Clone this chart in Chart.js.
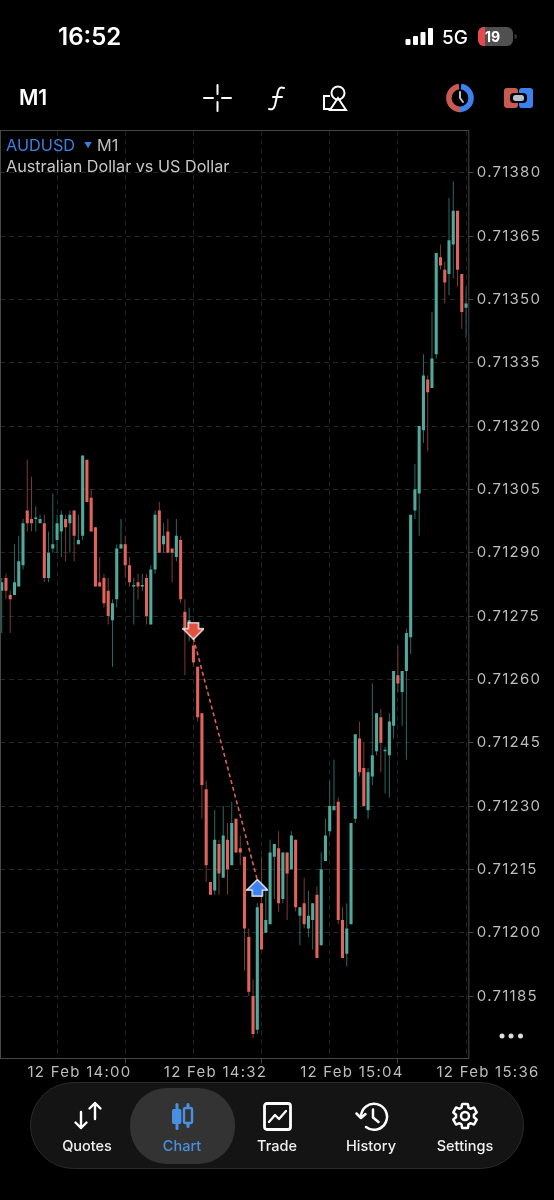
<!DOCTYPE html>
<html>
<head>
<meta charset="utf-8">
<title>AUDUSD M1</title>
<script src="https://cdn.jsdelivr.net/npm/chart.js@4"></script>
<style>
    html, body { margin: 0; padding: 0; background: #000; overflow: hidden; }
    #page { position: relative; width: 554px; height: 1200px; background: #000; font-family: Inter, "Liberation Sans", sans-serif; color: #fff; }
    #priceChart { position: absolute; left: 0; top: 0; }
    .txt { position: absolute; white-space: nowrap; line-height: 1; }
    .tab { position: absolute; top: 1139px; font-size: 14.5px; font-weight: 500; line-height: 1; transform: translateX(-50%); color: #f0f0f0; }
    svg { position: absolute; overflow: visible; }
</style>
</head>
<body>
<div id="page">
    <canvas id="priceChart" width="554" height="1200"></canvas>

    <div class="txt" style="left:58px;top:25px;font-size:24px;font-weight:600">16:52</div>
    <svg style="left:405px;top:28px" width="28" height="17" fill="#fff">
        <rect x="0.5" y="11" width="5" height="6" rx="1"/><rect x="8" y="8" width="5" height="9" rx="1"/>
        <rect x="15.5" y="4" width="5" height="13" rx="1"/><rect x="23" y="0" width="5" height="17" rx="1"/>
    </svg>
    <div class="txt" style="left:442px;top:28px;font-size:19px;font-weight:500">5G</div>
    <svg style="left:478px;top:27px" width="38" height="19">
        <rect x="0" y="0" width="35" height="19" rx="6" fill="#505050"/>
        <path d="M6 0h1v19h-1a6 6 0 0 1-6-6v-7a6 6 0 0 1 6-6z" fill="#e5484d"/>
        <path d="M36.5 7a2.5 2.5 0 0 1 0 5z" fill="#333"/>
    </svg>
    <div class="txt" style="left:485px;top:30px;font-size:14px;font-weight:700">19</div>

    <div class="txt" style="left:19px;top:87px;font-size:21px;font-weight:600">M1</div>
    <svg style="left:203px;top:84px" width="29" height="28" stroke="#fff" stroke-width="2" stroke-linecap="round" fill="none">
        <path d="M1 14h9M19 14h9M14.5 1v9M14.5 18v9"/>
    </svg>
    <svg style="left:268px;top:86px" width="18" height="26" stroke="#fff" stroke-width="2" stroke-linecap="round" fill="none">
        <path d="M16 2c-5-2-6 2-7 8l-2 9c-1 4-3 5-6 4M5 11h9"/>
    </svg>
    <svg style="left:323px;top:85px" width="26" height="27" stroke="#fff" stroke-width="2" fill="none">
        <path d="M7 11H1v13h7"/><circle cx="15" cy="8" r="6.500"/><path d="M15 13l8 12H7z"/>
    </svg>
    <svg style="left:446px;top:84px" width="28" height="28" fill="none">
        <path d="M13 2.6a11.5 11.5 0 0 0 2 22.9" stroke="#c95a4f" stroke-width="5.5"/>
        <path d="M15 2.6a11.5 11.5 0 0 1-1 22.9" stroke="#3b82f0" stroke-width="5.5"/>
        <path d="M14 8v6l3 4" stroke="#b8c0cc" stroke-width="2" stroke-linecap="round"/>
    </svg>
    <svg style="left:504px;top:88px" width="29" height="20">
        <rect x="0" y="0" width="14" height="20" rx="3" fill="#c95a4f"/>
        <rect x="15" y="0" width="14" height="20" rx="3" fill="#3b82f0"/>
        <rect x="6" y="5" width="17" height="10" rx="4" fill="#000"/>
        <rect x="9" y="7" width="11" height="6" rx="2.5" fill="#b8c0cc"/>
    </svg>

    <div class="txt" style="left:6px;top:137px;font-size:16.3px;color:#3d7fe0">AUDUSD</div>
    <div class="txt" style="left:84px;top:141px;font-size:8px;color:#3d7fe0">▼</div>
    <div class="txt" style="left:97px;top:137px;font-size:16.3px;color:#bdbdbd">M1</div>
    <div class="txt" style="left:6px;top:158px;font-size:16.2px;color:#c8c8c8">Australian Dollar vs US Dollar</div>

    <svg style="left:498px;top:1032px" width="26" height="8" fill="#ddd">
        <circle cx="4" cy="4" r="2.5"/><circle cx="13" cy="4" r="2.5"/><circle cx="22.5" cy="4" r="2.5"/>
    </svg>

    <svg style="left:30px;top:1082px" width="494" height="87">
        <rect x="0.5" y="0.5" width="493" height="86" rx="43" fill="#141414" stroke="#2a2a2a"/>
        <rect x="100" y="6" width="105" height="76" rx="37" fill="#333"/>
    </svg>
    <svg style="left:74px;top:1102px" width="29" height="27" stroke="#fff" stroke-width="2.4" fill="none" stroke-linecap="round" stroke-linejoin="round">
        <path d="M7 10v16M1.500 20.500L7 26l5.500-5.500M21 1v16M15.500 6.500L21 1l5.500 5.500"/>
    </svg>
    <svg style="left:171px;top:1103px" width="23" height="27">
        <rect x="0" y="6" width="11" height="15" rx="2" fill="#4a90e2" transform="translate(1 0) scale(0.85 1)"/>
        <rect x="4.500" y="0" width="3" height="27" rx="1.500" fill="#4a90e2"/>
        <rect x="15.500" y="0" width="3" height="25" rx="1.500" fill="#4a90e2"/>
        <rect x="13" y="5" width="8" height="15" rx="1.500" fill="#333" stroke="#4a90e2" stroke-width="2.400"/>
    </svg>
    <svg style="left:263px;top:1102px" width="29" height="29" stroke="#fff" fill="none" stroke-linejoin="round" stroke-linecap="round">
        <rect x="1.500" y="1.500" width="26" height="26" rx="2.500" stroke-width="2.800"/>
        <path d="M6 20l6-7 4 4 7-8" stroke-width="2.300"/>
    </svg>
    <svg style="left:355px;top:1102px" width="32" height="29" stroke="#fff" stroke-width="2.500" fill="none" stroke-linecap="round" stroke-linejoin="round">
        <path d="M6 14.500a13 13 0 1 1 5 10.500M1.500 11.500L6 16l4.500-4"/>
        <path d="M18 7.500v8l5.500 4.500"/>
    </svg>
    <svg style="left:450px;top:1101px" width="30" height="30" viewBox="0 0 24 24" stroke="#fff" stroke-width="2" fill="none" stroke-linejoin="round">
        <path d="M19.14 12.94c.04-.3.06-.61.06-.94 0-.32-.02-.64-.07-.94l2.03-1.58a.49.49 0 0 0 .12-.61l-1.92-3.32a.488.488 0 0 0-.59-.22l-2.39.96c-.5-.38-1.03-.7-1.62-.94l-.36-2.54a.484.484 0 0 0-.48-.41h-3.84c-.24 0-.43.17-.47.41l-.36 2.54c-.59.24-1.13.57-1.62.94l-2.39-.96c-.22-.08-.47 0-.59.22L2.74 8.870c-.12.21-.08.47.12.61l2.03 1.58c-.05.3-.09.63-.09.94s.02.64.07.94l-2.03 1.58a.49.49 0 0 0-.12.61l1.92 3.32c.12.22.37.29.59.22l2.39-.96c.5.38 1.03.7 1.62.94l.36 2.54c.05.24.24.41.48.41h3.84c.24 0 .44-.17.47-.41l.36-2.54c.59-.24 1.13-.56 1.62-.94l2.39.96c.22.08.47 0 .59-.22l1.92-3.32c.12-.22.07-.47-.12-.61l-2.010-1.58z"/>
        <circle cx="12" cy="12" r="3.200"/>
    </svg>
    <div class="tab" style="left:87px">Quotes</div>
    <div class="tab" style="left:182px;color:#4a90e2">Chart</div>
    <div class="tab" style="left:277px">Trade</div>
    <div class="tab" style="left:371px">History</div>
    <div class="tab" style="left:465px">Settings</div>
</div>

<script>
let opens = [
    0.71281, 0.71284, 0.71280, 0.71280, 0.71282, 0.71287, 0.71300, 0.71298, 0.71298, 0.71297,
    0.71297, 0.71284, 0.71291, 0.71293, 0.71295, 0.71298, 0.71297, 0.71300, 0.71292, 0.71294,
    0.71312, 0.71303, 0.71296, 0.71283, 0.71284, 0.71281, 0.71274, 0.71279, 0.71291, 0.71292,
    0.71287, 0.71282, 0.71283, 0.71282, 0.71284, 0.71273, 0.71286, 0.71300, 0.71292, 0.71295,
    0.71291, 0.71289, 0.71293, 0.71276, 0.71271, 0.71268, 0.71263, 0.71252, 0.71234, 0.71212,
    0.71210, 0.71221, 0.71213, 0.71222, 0.71216, 0.71227, 0.71220, 0.71218, 0.71199, 0.71185,
    0.71177, 0.71207, 0.71200, 0.71202, 0.71218, 0.71220, 0.71208, 0.71219, 0.71215, 0.71222,
    0.71204, 0.71207, 0.71201, 0.71203, 0.71209, 0.71197, 0.71217, 0.71224, 0.71229, 0.71231,
    0.71203, 0.71195, 0.71202, 0.71227, 0.71246, 0.71239, 0.71229, 0.71237, 0.71243, 0.71251,
    0.71243, 0.71242, 0.71249, 0.71261, 0.71257, 0.71262, 0.71270, 0.71300, 0.71304, 0.71319,
    0.71331, 0.71329, 0.71337, 0.71360, 0.71357, 0.71356, 0.71363, 0.71371, 0.71356, 0.71348
];
let closes = [
    0.71283, 0.71281, 0.71279, 0.71283, 0.71288, 0.71297, 0.71297, 0.71297, 0.71298, 0.71298,
    0.71284, 0.71290, 0.71292, 0.71297, 0.71299, 0.71296, 0.71299, 0.71294, 0.71293, 0.71313,
    0.71302, 0.71295, 0.71282, 0.71282, 0.71278, 0.71275, 0.71278, 0.71291, 0.71292, 0.71287,
    0.71283, 0.71282, 0.71282, 0.71282, 0.71275, 0.71286, 0.71299, 0.71290, 0.71294, 0.71290,
    0.71290, 0.71294, 0.71279, 0.71272, 0.71274, 0.71264, 0.71251, 0.71235, 0.71216, 0.71209,
    0.71222, 0.71214, 0.71223, 0.71215, 0.71226, 0.71219, 0.71219, 0.71201, 0.71186, 0.71176,
    0.71206, 0.71196, 0.71203, 0.71219, 0.71221, 0.71207, 0.71219, 0.71214, 0.71223, 0.71206,
    0.71206, 0.71202, 0.71204, 0.71207, 0.71194, 0.71215, 0.71223, 0.71230, 0.71230, 0.71203,
    0.71194, 0.71201, 0.71226, 0.71247, 0.71238, 0.71230, 0.71238, 0.71242, 0.71252, 0.71245,
    0.71243, 0.71250, 0.71262, 0.71259, 0.71262, 0.71271, 0.71299, 0.71305, 0.71320, 0.71332,
    0.71328, 0.71336, 0.71361, 0.71358, 0.71354, 0.71364, 0.71371, 0.71357, 0.71347, 0.71349
];
let highs = [
    0.71284, 0.71285, 0.71281, 0.71292, 0.71294, 0.71298, 0.71312, 0.71308, 0.71301, 0.71299,
    0.71299, 0.71295, 0.71304, 0.71299, 0.71300, 0.71299, 0.71300, 0.71300, 0.71299, 0.71313,
    0.71312, 0.71305, 0.71296, 0.71289, 0.71285, 0.71284, 0.71279, 0.71292, 0.71298, 0.71294,
    0.71289, 0.71284, 0.71285, 0.71285, 0.71285, 0.71287, 0.71300, 0.71302, 0.71297, 0.71298,
    0.71291, 0.71298, 0.71294, 0.71279, 0.71277, 0.71270, 0.71263, 0.71252, 0.71236, 0.71212,
    0.71229, 0.71222, 0.71230, 0.71226, 0.71231, 0.71227, 0.71223, 0.71218, 0.71201, 0.71189,
    0.71207, 0.71218, 0.71210, 0.71222, 0.71221, 0.71224, 0.71219, 0.71219, 0.71224, 0.71222,
    0.71206, 0.71213, 0.71210, 0.71207, 0.71211, 0.71219, 0.71227, 0.71236, 0.71241, 0.71232,
    0.71206, 0.71207, 0.71226, 0.71247, 0.71250, 0.71245, 0.71239, 0.71259, 0.71252, 0.71253,
    0.71244, 0.71252, 0.71262, 0.71268, 0.71262, 0.71272, 0.71299, 0.71311, 0.71320, 0.71337,
    0.71332, 0.71347, 0.71361, 0.71363, 0.71359, 0.71374, 0.71378, 0.71371, 0.71356, 0.71353
];
let lows = [
    0.71271, 0.71279, 0.71271, 0.71280, 0.71282, 0.71286, 0.71295, 0.71295, 0.71295, 0.71297,
    0.71283, 0.71283, 0.71290, 0.71290, 0.71289, 0.71288, 0.71290, 0.71288, 0.71292, 0.71293,
    0.71302, 0.71295, 0.71282, 0.71282, 0.71277, 0.71273, 0.71263, 0.71277, 0.71291, 0.71284,
    0.71282, 0.71273, 0.71279, 0.71281, 0.71273, 0.71273, 0.71285, 0.71290, 0.71290, 0.71290,
    0.71283, 0.71288, 0.71278, 0.71261, 0.71269, 0.71263, 0.71250, 0.71227, 0.71212, 0.71209,
    0.71209, 0.71209, 0.71213, 0.71209, 0.71216, 0.71219, 0.71216, 0.71191, 0.71185, 0.71175,
    0.71176, 0.71196, 0.71200, 0.71202, 0.71208, 0.71205, 0.71207, 0.71203, 0.71215, 0.71205,
    0.71197, 0.71201, 0.71199, 0.71196, 0.71194, 0.71197, 0.71217, 0.71223, 0.71229, 0.71202,
    0.71194, 0.71192, 0.71202, 0.71226, 0.71237, 0.71230, 0.71227, 0.71235, 0.71242, 0.71238,
    0.71233, 0.71232, 0.71246, 0.71257, 0.71249, 0.71241, 0.71266, 0.71298, 0.71294, 0.71316,
    0.71314, 0.71329, 0.71336, 0.71357, 0.71349, 0.71351, 0.71355, 0.71353, 0.71343, 0.71341
];

let yTickValues = [0.7138, 0.71365, 0.7135, 0.71335, 0.7132, 0.71305, 0.7129, 0.71275, 0.7126, 0.71245, 0.7123, 0.71215, 0.712, 0.71185];
let xTickBars = [5, 21, 37, 53, 69, 85, 101];
let xTickLabels = ['12 Feb 14:00', '', '12 Feb 14:32', '', '12 Feb 15:04', '', '12 Feb 15:36'];

// sell at bar 45, closed at bar 60
let tradeBars = [45, 60];
let tradePrices = [0.712698, 0.712125];
let arrowPrices = [0.712715, 0.712106];

const TEAL = '#50a99d', RED = '#e0645c';
const TEAL_WICK = '#2c6a62', RED_WICK = '#7c3a36';

function makeArrow(fill, down) {
    let c = document.createElement('canvas');
    c.width = 22;
    c.height = 18;
    let g = c.getContext('2d');
    if (down) {
        g.translate(0, 18);
        g.scale(1, -1);
    }
    let shape = [[11, 1.5], [20, 10.5], [15.5, 10.5], [15.5, 16.5], [6.5, 16.5], [6.5, 10.5], [2, 10.5]];
    g.beginPath();
    shape.forEach((p, i) => i ? g.lineTo(p[0], p[1]) : g.moveTo(p[0], p[1]));
    g.closePath();
    g.lineJoin = 'miter';
    g.lineWidth = 2.5;
    g.strokeStyle = '#fff';
    g.stroke();
    g.fillStyle = fill;
    g.fill();
    return c;
}

document.addEventListener('DOMContentLoaded', function () {
    let ctx = document.getElementById('priceChart').getContext('2d');

    let isUp = i => closes[i] >= opens[i];
    let wickData = opens.map((_, i) => ({ x: i, y: [lows[i], highs[i]] }));
    let bodyData = opens.map((_, i) => ({ x: i, y: [opens[i], closes[i]] }));

    let frame = {
        id: 'frame',
        beforeDraw(chart) {
            chart.ctx.letterSpacing = '1.25px';
        },
        afterDatasetsDraw(chart) {
            let a = chart.chartArea;
            let g = chart.ctx;
            g.save();
            g.strokeStyle = '#474747';
            g.lineWidth = 1;
            g.strokeRect(a.left + 0.5, a.top, a.right - a.left, a.bottom - a.top);
            g.restore();
        }
    };

    new Chart(ctx, {
        data: {
            datasets: [
                {
                    type: 'bar',
                    label: 'Wick',
                    data: wickData,
                    grouped: false,
                    maxBarThickness: 1,
                    backgroundColor: wickData.map((_, i) => isUp(i) ? TEAL_WICK : RED_WICK),
                    order: 5
                },
                {
                    type: 'bar',
                    label: 'Body',
                    data: bodyData,
                    grouped: false,
                    maxBarThickness: 3.95,
                    minBarLength: 1.5,
                    backgroundColor: bodyData.map((_, i) => isUp(i) ? TEAL : RED),
                    order: 4
                },
                {
                    type: 'line',
                    label: 'Trade',
                    data: tradeBars.map((b, i) => ({ x: b, y: tradePrices[i] })),
                    borderColor: '#d9605a',
                    borderWidth: 1.6,
                    borderDash: [4, 3],
                    pointRadius: 0,
                    order: 2
                },
                {
                    type: 'line',
                    label: 'Arrows',
                    data: tradeBars.map((b, i) => ({ x: b, y: arrowPrices[i] })),
                    showLine: false,
                    pointStyle: [makeArrow('#e2503f', true), makeArrow('#3b82f0', false)],
                    order: 1
                }
            ]
        },
        options: {
            responsive: false,
            animation: false,
            events: [],
            layout: { autoPadding: false, padding: { top: 130.5, left: 0, right: 0, bottom: 0 } },
            plugins: {
                legend: { display: false },
                tooltip: { enabled: false }
            },
            scales: {
                x: {
                    type: 'linear',
                    offset: false,
                    min: -0.4,
                    max: 109.53,
                    afterBuildTicks: s => { s.ticks = xTickBars.map(v => ({ value: v })); },
                    afterFit: s => { s.height = 1200 - 1058.5; s.paddingLeft = 0; s.paddingRight = 0; },
                    grid: {
                        color: '#1f2026',
                        tickLength: 5,
                        tickColor: c => xTickLabels[c.index] ? '#474747' : 'transparent'
                    },
                    border: { display: false, dash: [5, 4] },
                    ticks: {
                        autoSkip: false,
                        maxRotation: 0,
                        align: 'start',
                        labelOffset: 4.5,
                        padding: 0,
                        color: '#bdbdbd',
                        font: { family: 'Inter', size: 15 },
                        callback: (v, i) => xTickLabels[i]
                    }
                },
                y: {
                    type: 'linear',
                    position: 'right',
                    min: 0.711702,
                    max: 0.7139,
                    afterBuildTicks: s => { s.ticks = yTickValues.map(v => ({ value: v })); },
                    afterFit: s => { s.width = 554 - 468.3; s.paddingTop = 0; s.paddingBottom = 0; },
                    grid: {
                        color: '#26272c',
                        tickLength: 5,
                        tickColor: '#474747'
                    },
                    border: { display: false, dash: [5, 4] },
                    ticks: {
                        autoSkip: false,
                        padding: 3.5,
                        color: '#bdbdbd',
                        font: { family: 'Inter', size: 15 },
                        callback: v => v.toFixed(5)
                    }
                }
            }
        },
        plugins: [frame]
    });
});
</script>
</body>
</html>
